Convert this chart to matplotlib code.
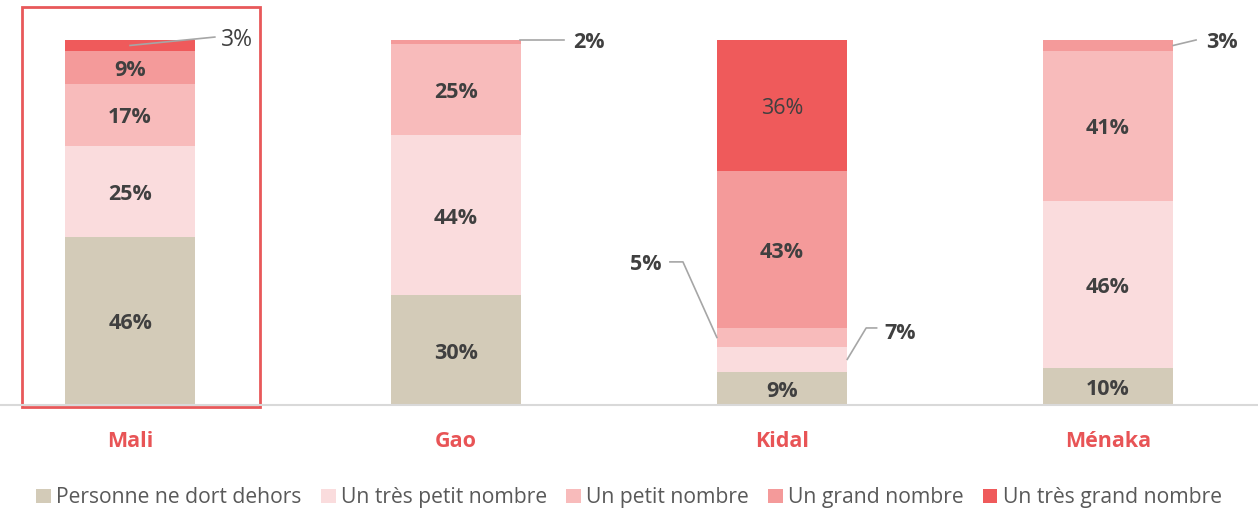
import matplotlib.pyplot as plt
from matplotlib.patches import Rectangle
import numpy as np

plt.rcParams['font.family'] = ['Open Sans', 'DejaVu Sans']

# data
regions = ['Mali', 'Gao', 'Kidal', 'Ménaka']
series = ['Personne ne dort dehors', 'Un très petit nombre', 'Un petit nombre',
          'Un grand nombre', 'Un très grand nombre']
dehors = [46, 30, 9, 10]
tres_petit = [25, 44, 7, 46]
petit = [17, 25, 5, 41]
grand = [9, 2, 43, 3]
tres_grand = [3, 0, 36, 0]

colors = ['#D3CBB8', '#FADCDD', '#F8BBBB', '#F49A9A', '#EF5A5B']
values = np.array([dehors, tres_petit, petit, grand, tres_grand]) / 100.0

fig = plt.figure(figsize=(12.58, 5.08), dpi=100)
ax = fig.add_axes([0, 0.2028, 1, 0.7185])
x = np.arange(len(regions))
w = 0.4

bottom = np.zeros(len(regions))
for k in range(len(series)):
    ax.bar(x, values[k], w, bottom=bottom, color=colors[k], label=series[k], linewidth=0)
    bottom += values[k]

ax.set_xlim(-0.399, 3.46)
ax.set_ylim(0, 1)
ax.axis('off')
ax.axhline(0, color='#D9D9D9', lw=1.5, clip_on=False)

# labels inside the segments (small ones get leader lines)
outside = {(0, 4), (1, 3), (2, 1), (2, 2), (3, 3)}
label_col = '#404040'
fs = 15.5
bottom = np.zeros(len(regions))
for k in range(len(series)):
    for i in range(len(regions)):
        v = values[k][i]
        if v > 0 and (i, k) not in outside:
            bold = not (i == 2 and k == 4)
            ax.text(x[i], bottom[i] + v / 2 - 0.008, f'{round(v*100)}%', ha='center', va='center',
                    fontsize=fs, color=label_col, fontweight='bold' if bold else 'normal')
    bottom += values[k]

cum = np.cumsum(values, axis=0)
lc = '#A6A6A6'

def leader(i, k, pts, tx, ty, ha, bold=True, size=fs):
    mid = cum[k][i] - values[k][i] / 2
    xs = [x[i] + pts[0][0]] + [x[i] + p[0] for p in pts[1:]]
    ys = [mid] + [p[1] for p in pts[1:]]
    ax.plot(xs, ys, color=lc, lw=1.2, clip_on=False)
    ax.text(x[i] + tx, ty, f'{round(values[k][i]*100)}%', ha=ha, va='center',
            fontsize=size, color=label_col, fontweight='bold' if bold else 'normal', clip_on=False)

leader(0, 4, [(0, 0), (0.26, 1.008)], 0.28, 1.0, 'left', bold=False, size=16.5)
leader(1, 3, [(0.196, 0), (0.33, 1.0)], 0.36, 0.993, 'left')
leader(3, 3, [(0.2, 0), (0.27, 1.0)], 0.30, 0.993, 'left')
leader(2, 2, [(-0.2, 0), (-0.304, 0.392), (-0.344, 0.392)], -0.37, 0.385, 'right')
leader(2, 1, [(0.2, 0), (0.258, 0.211), (0.29, 0.211)], 0.315, 0.195, 'left')

# category labels
for i, r in enumerate(regions):
    ax.text(x[i], -0.1, r, ha='center', va='center', fontsize=15.5,
            color='#E85456', fontweight='bold', clip_on=False)

# highlight box around Mali
ax.add_patch(Rectangle((-0.331, -0.005), 0.73, 1.095, fill=False,
                       edgecolor='#E8585A', lw=2, clip_on=False))

fig.legend(loc='center', bbox_to_anchor=(0.5, 0.02), ncol=5, frameon=False,
           fontsize=15.2, handlelength=0.7, handleheight=0.7, handletextpad=0.25,
           columnspacing=0.9, labelcolor='#595959', borderaxespad=0)

fig.savefig('out.png', dpi=100)
